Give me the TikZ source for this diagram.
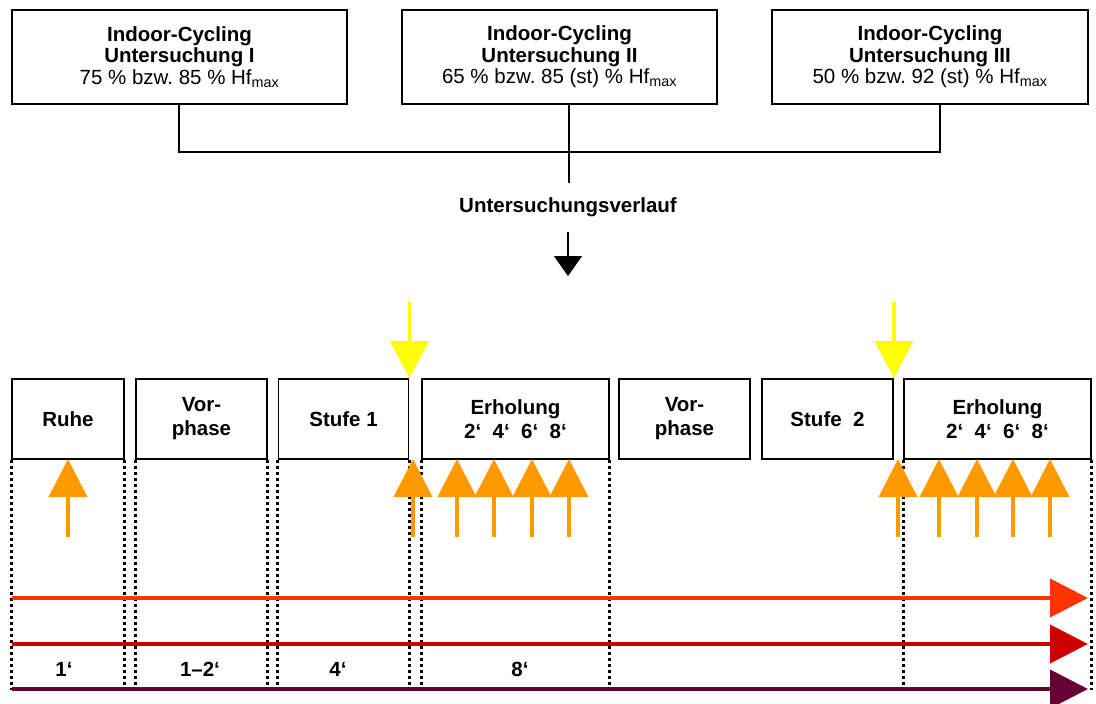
\documentclass[tikz,border=0pt]{standalone}
\usepackage{fontspec}
\setmainfont{Liberation Sans}
\usetikzlibrary{arrows.meta,calc}
\definecolor{MessOrange}{HTML}{FF9900}
\definecolor{MessGelb}{HTML}{FFFF00}
\definecolor{LinieOrange}{HTML}{FF3300}
\definecolor{LinieRot}{HTML}{CC0000}
\definecolor{LiniePurpur}{HTML}{660033}
\frenchspacing

\begin{document}
\begin{tikzpicture}[x=1pt,y=-1pt,
    every node/.style={font=\fontsize{20.5}{21.5}\selectfont\bfseries,inner sep=0pt},
    kopfbox/.style={draw,line width=1.6pt,align=center,minimum height=94pt},
    phasenbox/.style={draw,line width=1.8pt,align=center,minimum height=80pt,
      font=\fontsize{20.5}{24}\selectfont\bfseries},
    punktlinie/.style={line width=3pt,dash pattern=on 3pt off 3pt},
    messpfeil/.style={MessOrange,line width=4pt,-{Triangle[length=38pt,width=38pt]}},
    gelbpfeil/.style={MessGelb,line width=3.5pt,-{Triangle[length=37pt,width=38pt]}},
    zeitpfeil/.style={line width=4pt,-{Triangle[length=38pt,width=38pt]}}]
  \useasboundingbox (0,0) rectangle (1096,704);

  % Untersuchungen
  \node[kopfbox,minimum width=335pt] (u1) at (179.5,57)
    {Indoor-Cycling\\Untersuchung I\\{\mdseries 75~\% bzw. 85~\% Hf\textsubscript{max}}};
  \node[kopfbox,minimum width=315pt] (u2) at (559.5,57)
    {Indoor-Cycling\\Untersuchung II\\{\mdseries 65~\% bzw. 85 (st) \% Hf\textsubscript{max}}};
  \node[kopfbox,minimum width=316pt] (u3) at (930,57)
    {Indoor-Cycling\\Untersuchung III\\{\mdseries 50~\% bzw. 92 (st) \% Hf\textsubscript{max}}};

  \coordinate (j1) at (179,152);
  \coordinate (j2) at (569,183);
  \coordinate (j3) at (940,152);
  \draw[line width=1.5pt] (u1.south -| j1) -- (j1) -- (j3) -- (u3.south -| j3);
  \draw[line width=1.5pt] (u2.south -| j2) -- (j2);

  \node (verlauf) at (568,207) {Untersuchungsverlauf};
  \coordinate (vstart) at (568,232);
  \coordinate (vende) at (568,276);
  \draw[line width=1.5pt,-{Triangle[length=20pt,width=28pt]}] (vstart) -- (vende);

  % Phasen
  \node[phasenbox,minimum width=112pt] (ruhe) at (68,419) {Ruhe};
  \node[phasenbox,minimum width=131pt] (vor1) at (201.5,419) {Vor-\\phase};
  \node[phasenbox,minimum width=130pt] (stufe1) at (343.5,419) {Stufe 1};
  \node[phasenbox,minimum width=187pt] (erh1) at (515.5,419) {Erholung\\2‘~~4‘~~6‘~~8‘};
  \node[phasenbox,minimum width=131pt] (vor2) at (684.5,419) {Vor-\\phase};
  \node[phasenbox,minimum width=131pt] (stufe2) at (827.5,419) {Stufe~~2};
  \node[phasenbox,minimum width=187pt] (erh2) at (997.5,419) {Erholung\\2‘~~4‘~~6‘~~8‘};

  \coordinate (unten) at (0,690);
  \foreach \b in {ruhe,vor1,stufe1,erh1,erh2} {
    \draw[punktlinie] (\b.south west) -- (\b.south west |- unten);
    \draw[punktlinie] (\b.south east) -- (\b.south east |- unten);
  }

  % Zeitpunkte
  \coordinate (gelboben) at (0,302);
  \draw[gelbpfeil] (stufe1.north east |- gelboben) -- (stufe1.north east);
  \draw[gelbpfeil] (stufe2.north east |- gelboben) -- (stufe2.north east);

  \foreach \x in {68,413,457,494,532,569,898,939,977,1013,1050}
    \draw[messpfeil] (\x,537) -- (\x,459);

  % Zeitachsen
  \draw[zeitpfeil,LinieOrange] (12,598) -- (1088,598);
  \draw[zeitpfeil,LinieRot] (12,644) -- (1088,644);
  \draw[zeitpfeil,LiniePurpur] (12,689) -- (1088,689);

  \node (t1) at (64,669) {1‘};
  \node (t2) at (200,669) {1–2‘};
  \node (t3) at (338,669) {4‘};
  \node (t4) at (520,669) {8‘};
\end{tikzpicture}
\end{document}
